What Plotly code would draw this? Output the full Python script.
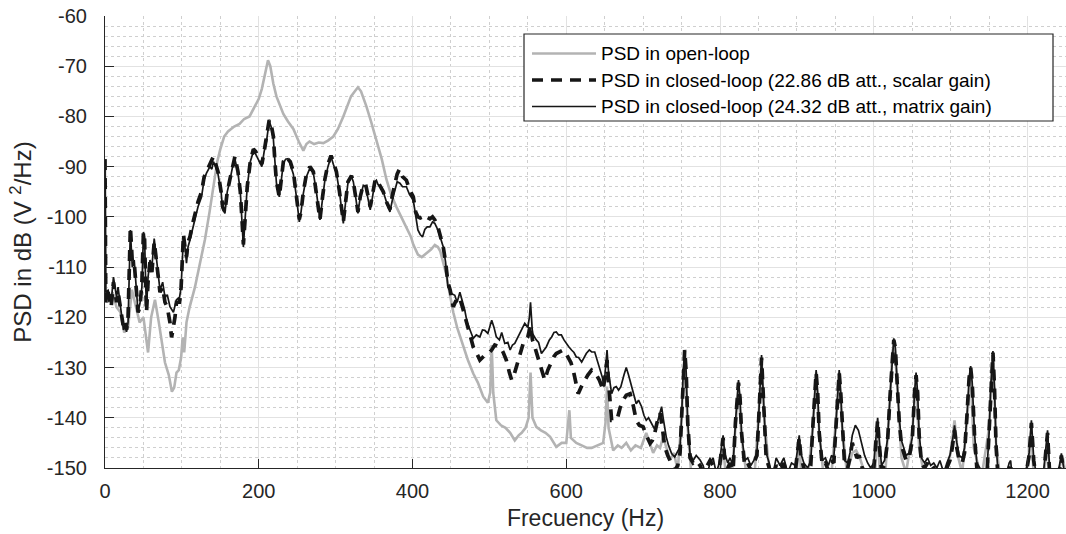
import plotly.graph_objects as go

# ---------------- data ----------------
f_open = [0, 1, 5, 10, 15, 20, 25, 30, 35, 40, 45, 50, 53, 56, 60, 65, 70, 74, 78, 83, 87, 90, 93, 96, 99, 101, 103, 106, 110, 117, 124, 130, 136, 141, 146, 150, 155, 160, 168, 175, 181, 188, 195, 200, 204, 208, 212, 215, 219, 223, 228, 232, 238, 245, 252, 258, 262, 266, 272, 278, 284, 290, 297, 303, 310, 315, 320, 325, 329, 333, 337, 340, 346, 353, 360, 366, 372, 379, 385, 392, 398, 401, 407, 412, 418, 424, 429, 433, 436, 440, 444, 448, 453, 458, 466, 472, 479, 485, 492, 498, 501, 503, 505, 509, 515, 521, 527, 533, 538, 542, 547, 551, 553.5, 556, 561, 567, 573, 579, 587, 594, 600, 602, 604, 606, 613, 620, 627, 633, 640, 648, 651, 653, 655, 661, 667, 672, 678, 684, 690, 697, 704, 709, 713, 718, 722, 726, 731, 735, 740, 745, 750, 754, 758, 763, 770, 780, 790, 800, 804, 808, 815, 820, 824, 828, 835, 845, 850, 854, 858, 865, 880, 895, 900, 903, 906, 915, 921, 925, 929, 935, 945, 951, 955, 959, 965, 972, 977, 982, 988, 995, 1002, 1005, 1008, 1015, 1020, 1024, 1027, 1031, 1036, 1042, 1050, 1055, 1059, 1065, 1075, 1085, 1095, 1100, 1105, 1110, 1115, 1121, 1126, 1130, 1140, 1150, 1155, 1159, 1165, 1178, 1195, 1202, 1205, 1208, 1220, 1224, 1226, 1229, 1238, 1243, 1246, 1250]
psd_open = [-90, -116, -117, -115, -118, -119, -123, -122, -114.5, -118, -121, -120, -124, -127, -120, -116.5, -121, -125.5, -129, -131.5, -134.8, -134, -131, -130.5, -128, -124, -127, -121, -118, -114, -109, -104.5, -99, -94, -89, -86.5, -84, -83, -82, -81.5, -80.5, -80, -78, -76.5, -74.5, -71.5, -68.8, -70, -73.5, -76, -78, -79.5, -81, -82.5, -85, -86.8, -85.5, -85, -85.5, -85.2, -85.3, -84.8, -84, -82.5, -80, -78, -76, -75, -74.2, -75, -76.5, -78, -81, -84.7, -88.5, -92.5, -95.5, -98, -100, -102, -104, -105.5, -107.5, -108, -107.3, -106.5, -105.6, -106, -106.8, -109, -111.5, -115, -119, -122, -125.9, -128.5, -131.2, -133, -135.8, -137, -135, -125.5, -135, -140.5, -141.5, -142, -143, -144.5, -143.5, -143, -142, -140, -131, -140, -141.8, -142.5, -143, -143.8, -145.8, -145, -145, -142, -138.5, -144, -145, -145.5, -146, -146, -145.5, -145, -141, -133.8, -142, -146.5, -145.5, -146, -145, -146.5, -145.5, -146, -143, -145.5, -147, -145.5, -146, -143.8, -146.5, -148.4, -147, -150.5, -140, -127, -142, -152, -151, -152, -151, -150.5, -146, -152, -152, -142, -134, -144, -152, -151, -140, -128.5, -141, -152, -151, -152, -150, -145, -152, -151, -141, -131, -143, -152, -151, -140, -131, -142, -151, -147, -146.5, -148, -151, -152, -150, -141, -152, -151, -139, -127, -125, -135, -148, -151, -143, -132, -146, -151, -152, -151, -150, -147, -140.5, -148, -151, -141, -131, -146, -152, -142, -127.5, -145, -153, -153, -153, -148, -142, -152, -152, -148, -144, -152, -152, -149, -148, -152]

f_scalar = [0, 1, 4, 8, 11, 13, 15, 17, 19.5, 22, 24, 26, 28, 30, 32, 33, 34.5, 35.5, 38, 41, 43, 45.5, 48, 50, 51.5, 53, 54, 56, 58.5, 61, 64, 66, 68, 71.5, 75, 78, 81, 84.5, 86.6, 89, 91, 93, 97, 99, 102, 104, 106, 108, 110.5, 113, 117, 121, 125.6, 129, 132, 136.5, 139, 141, 144, 147, 151, 153, 156, 159, 162.5, 166, 169, 173, 176, 178, 180, 182, 185, 189, 193, 196, 199.5, 204, 207, 210, 213.6, 216, 219, 221, 223, 226.7, 229, 232, 235, 238, 241, 245, 249, 252.7, 255, 258, 262, 266.5, 271, 275, 279.6, 283, 286, 290, 294, 297, 301, 305, 308, 310, 313, 316, 320.6, 323, 326, 329, 332, 336, 339, 342, 345, 348, 351, 353, 355, 358, 362, 366, 370.6, 374, 377, 380, 383, 387, 392, 396, 401, 404, 407, 410, 413, 416, 419, 422.6, 426, 429, 433, 437, 440, 443, 446, 449, 451, 453, 457, 461, 465, 470, 474, 479, 483, 487.6, 491, 496, 500, 503, 507, 514, 518, 522, 526, 529, 532, 535, 539, 544, 547, 550, 553.5, 556, 559, 563, 566, 569, 572, 576, 581, 584, 587, 591, 596, 599, 602.5, 606, 609, 612, 615.5, 619, 624, 628, 633, 638, 643, 648, 651, 653, 655, 659, 663, 667, 670, 674, 678, 683, 687, 691, 695, 700, 704, 709, 712, 715, 718, 722, 725, 728, 732, 737, 741, 745, 748, 750, 752, 754, 756, 758, 761, 765, 769, 774, 778, 782, 787, 791, 795, 799, 801, 804, 806, 810, 813, 817, 820, 822, 824, 826, 828, 832, 836, 840, 844, 848, 851, 854, 857, 860, 864, 868, 873, 878, 883, 888, 893, 898, 901, 903, 905, 909, 914, 918, 921, 923, 925, 927, 929, 933, 937, 941, 945, 948, 951, 953, 955, 957, 959, 962, 966, 969, 972, 975, 978, 981, 985, 988, 992, 996, 1000, 1003, 1005, 1007, 1010, 1014, 1018, 1021, 1024, 1026, 1028, 1030, 1033, 1036, 1039, 1042, 1046, 1050, 1053, 1055, 1057, 1059, 1062, 1066, 1070, 1074, 1078, 1082, 1086, 1091, 1095, 1099, 1102, 1105, 1108, 1111, 1115, 1118, 1121, 1124, 1126, 1128, 1131, 1134, 1138, 1142, 1147, 1150, 1152, 1155, 1157, 1159, 1162, 1170, 1176, 1178, 1180, 1185, 1188, 1195, 1202, 1205, 1208, 1212, 1220, 1223, 1226, 1229, 1235, 1241, 1244, 1247, 1250]
psd_scalar = [-88.5, -117, -115, -118, -113, -115, -117, -115, -118, -121, -122, -121, -122.5, -120, -108, -102, -106, -109, -109, -116.5, -119, -118, -113, -103, -104.5, -114, -119, -113, -109, -111, -105, -107.5, -110, -115, -114, -117, -118, -121, -124, -122, -120, -117, -117, -114, -103.5, -106, -108, -105, -104, -102, -99.5, -97, -95, -92, -91, -89.5, -89, -88, -89.5, -91, -95, -98, -99, -95, -92.5, -90, -88, -91, -95, -100, -105.5, -101, -94, -89, -86.5, -87, -88, -89.5, -87, -84.5, -80.7, -81.5, -84, -89, -93, -96, -93, -89, -88, -88.4, -89, -91, -96, -100.5, -99, -95, -91.5, -90, -91, -95, -100.5, -96, -92.5, -89.5, -87.8, -89, -91, -95, -99, -101, -97, -93, -91.8, -93, -96, -99, -96, -93.5, -93.5, -96, -98, -95.5, -93, -92.5, -93, -94, -95, -97, -98.5, -95.5, -93.5, -91.5, -90.5, -92, -92.7, -94.5, -96, -99, -100, -100.2, -100, -100.5, -100.1, -100.4, -100, -100.6, -102, -104, -106, -109, -113, -114.6, -116, -117.9, -116.5, -116, -118, -120.6, -123, -125.9, -127, -128.5, -128, -127.2, -127, -126.5, -125.5, -125.9, -127, -128.5, -131, -132.5, -131.5, -129.9, -127.5, -125.2, -124.5, -123.9, -121.5, -124.5, -125.9, -128, -129.9, -131.5, -132.5, -130.5, -128.5, -127.8, -127.2, -126.8, -126.5, -127, -127.9, -129, -130.5, -133, -135.2, -134, -132.5, -131.5, -130.5, -131.1, -132.5, -134.5, -131, -128.5, -133, -140.5, -140.5, -139.8, -138, -136.5, -135.5, -135.2, -137.5, -140.5, -141.5, -141.8, -143.5, -145.1, -144.5, -143.1, -141, -139.1, -142, -145.8, -147.5, -149, -150.5, -149.5, -147, -140, -131, -126.5, -131, -141, -148, -149, -148.5, -149.5, -151, -150, -148.5, -149.5, -152, -150, -148, -144, -148, -150, -149, -150.5, -141, -136, -133, -136, -143, -149.5, -149, -150.5, -149, -147.5, -138, -128, -138, -148, -150, -152, -149.5, -150.5, -149, -152, -150, -150.5, -146.5, -144, -147.5, -150, -151, -149.5, -141, -135, -131, -135, -143, -149.5, -149, -150.5, -148.5, -149, -140, -134, -131, -135, -142, -149.5, -150, -148, -145, -146.5, -148, -147.5, -150, -150.5, -151, -151.5, -150, -145, -140.5, -145, -150.5, -149.5, -144.5, -136, -128, -124.5, -126, -132, -140.5, -145.5, -147, -148.5, -148, -144.5, -135, -131.5, -135, -143.5, -149, -150, -149, -150.5, -150, -151, -149.5, -152, -150, -148.5, -146, -142.5, -146, -148.5, -149, -147, -140, -132, -130, -133, -143.5, -150, -151, -153, -152, -143, -134, -127, -134, -145.5, -153, -154, -150, -149, -153, -152, -153, -154, -147.5, -141, -148.5, -153, -153, -147.5, -143, -152, -154, -151, -147.5, -151, -153]

f_matrix = [0, 1, 4, 8, 11, 13, 15, 17, 19.5, 22, 24, 26, 28, 30, 32, 33, 34.5, 35.5, 38, 41, 43, 45.5, 48, 50, 51.5, 53, 54, 56, 58.5, 61, 64, 66, 68, 71.5, 75, 78, 81, 84.5, 89, 91, 93, 97, 99, 102, 104, 106, 108, 110.5, 113, 117, 121, 125.6, 129, 132, 136.5, 139, 141, 144, 147, 151, 153, 156, 159, 162.5, 166, 169, 173, 176, 178, 180, 182, 185, 189, 193, 196, 199.5, 204, 207, 210, 213.6, 216, 219, 221, 223, 226.7, 229, 232, 235, 238, 241, 245, 249, 252.7, 255, 258, 262, 266.5, 271, 275, 279.6, 283, 286, 290, 294, 297, 301, 305, 308, 310, 313, 316, 320.6, 323, 326, 329, 332, 336, 339, 342, 345, 348, 351, 353, 355, 358, 362, 366, 370.6, 374, 377, 380, 383.6, 387, 392, 396, 401, 404, 407, 410, 413, 416, 419, 422.6, 426, 429, 433, 437, 440, 443, 446, 449, 451, 455, 458, 461.6, 465, 468, 471, 474.6, 479, 483, 487.6, 491, 494, 498, 501, 503, 506, 509, 513, 516, 520, 524, 527, 530, 533, 537, 540, 543, 546, 550, 552, 553.5, 555, 556, 561, 564, 567.7, 571, 574, 578, 581, 584, 587, 590, 593.6, 597, 600, 603, 606.8, 610, 613, 616, 620, 623, 626, 630, 633, 637, 640, 643.7, 647, 649, 651, 653, 655, 659, 662, 665, 668, 671, 675, 678, 681, 685, 688, 691, 694, 698, 701, 704, 707, 711, 714, 717, 720, 722, 724, 726, 730, 733, 737, 741, 744, 748, 750, 752, 754, 756, 758, 761, 765, 769, 774, 778, 782, 787, 791, 795, 799, 801, 804, 806, 810, 813, 817, 820, 822, 824, 826, 828, 832, 836, 840, 844, 848, 851, 854, 857, 860, 864, 868, 873, 878, 883, 888, 893, 898, 901, 903, 905, 909, 914, 918, 921, 923, 925, 927, 929, 933, 937, 941, 945, 948, 951, 953, 955, 957, 959, 962, 966, 969, 972, 976, 980, 984, 988, 992, 996, 1000, 1003, 1005, 1007, 1010, 1014, 1018, 1021, 1024, 1026, 1028, 1030, 1033, 1036, 1039, 1042, 1046, 1050, 1053, 1055, 1057, 1059, 1062, 1066, 1070, 1074, 1078, 1082, 1086, 1091, 1095, 1099, 1102, 1105, 1108, 1111, 1115, 1118, 1121, 1124, 1126, 1128, 1131, 1134, 1138, 1142, 1147, 1150, 1152, 1155, 1157, 1159, 1162, 1170, 1176, 1178, 1180, 1185, 1188, 1195, 1202, 1205, 1208, 1212, 1220, 1223, 1226, 1229, 1235, 1241, 1244, 1247, 1250]
psd_matrix = [-88.5, -115, -114.6, -117, -112, -114, -116, -114, -117.2, -120, -122.5, -121.5, -122.9, -121, -109, -102.6, -107, -110, -108.6, -116, -119, -117.2, -114, -103, -104, -114, -118, -112, -108.6, -110, -104.3, -107, -110, -114.6, -113, -116, -115.5, -117.9, -119, -118, -116.5, -116, -114, -104, -106, -109.2, -106, -104.6, -103, -100.6, -98, -96, -92.5, -91.3, -90, -90.5, -89, -90, -91.5, -95, -98.5, -99.3, -95, -92.7, -90, -88.5, -91.3, -95, -100, -106, -101, -94, -89, -87, -87.5, -88.5, -90, -87, -85, -81, -82, -84.5, -89, -93.3, -96, -93, -89.3, -88.5, -88.4, -89.5, -91.5, -96, -101, -99, -95.3, -92, -90.3, -91.3, -95, -100.6, -96, -92.7, -90, -88, -89.5, -91.3, -95, -99, -101.3, -97, -93.3, -92, -93, -96, -99.3, -96, -93.7, -94, -96.5, -98.6, -96, -93, -92.7, -93.5, -94, -95, -97, -99, -96.5, -94.7, -93, -93.3, -94, -94, -95.5, -96.7, -100, -102.6, -103.5, -104, -102.5, -102, -102, -101, -101.3, -102.6, -104.5, -106, -109, -114, -114.5, -115.3, -115.6, -117, -115, -117, -118.6, -121, -122.6, -124.2, -123.5, -123.9, -122.5, -122.6, -123.2, -121.5, -120.6, -122, -123.9, -124.5, -123, -125.2, -125, -126.5, -125.5, -125.2, -124, -123.2, -122, -121.2, -122, -120, -117, -121, -123.2, -124.5, -125, -127.2, -126.5, -125.9, -124.5, -123.9, -123, -122.9, -123.5, -123.5, -124.5, -125.2, -125.8, -126.5, -127, -127.9, -128, -128.9, -128, -127.2, -126.5, -126.9, -126.9, -128.5, -130.5, -132, -133.8, -130, -126.5, -131, -135.2, -134, -133.8, -134.5, -133.8, -131.5, -130, -131.5, -133.8, -135.5, -137.2, -136.5, -137.8, -139.5, -140.5, -140, -141.1, -142, -141.8, -140, -138.5, -137.8, -140, -143.8, -145.5, -147.1, -147.8, -147, -145.8, -140, -131, -126.5, -131, -141, -147.1, -148.5, -147.5, -148.4, -149.5, -152, -149, -148, -151, -149, -147, -143.5, -147, -149, -148, -149.5, -141, -136, -132.5, -136, -143, -148.5, -148, -149.5, -148.5, -147, -138, -127.5, -138, -147, -149, -152, -148, -149.5, -148, -151, -149, -149.5, -146, -143.5, -147, -149, -150, -148.5, -141, -135, -130.5, -135, -143, -148.5, -148, -149.5, -147.5, -148, -140, -134, -130.5, -135, -142, -148.5, -149, -147, -143.5, -141.5, -142.5, -145, -147.5, -149, -150, -149, -144, -140, -144, -149.5, -148.5, -144, -136, -128, -124.2, -126, -132, -140, -144.5, -146, -147.5, -147, -144, -135, -131, -135, -143, -148, -149, -148, -149.5, -149, -150, -148.5, -151, -149, -147.5, -145, -141.5, -145, -147.5, -148, -146, -140, -132, -129.7, -133, -143, -149, -150, -152, -151, -143, -134, -126.7, -134, -145, -152, -153, -149, -148.5, -152, -151, -152, -153, -147, -140.5, -148, -152, -152, -147, -142.5, -151, -153, -150, -147.1, -150, -152]

names = ["PSD in open-loop",
         "PSD in closed-loop (22.86 dB att., scalar gain)",
         "PSD in closed-loop (24.32 dB att., matrix gain)"]

x_ticks = [0, 200, 400, 600, 800, 1000, 1200]
y_ticks = [-60, -70, -80, -90, -100, -110, -120, -130, -140, -150]

# ---------------- styling ----------------
GRAY = "#b3b3b3"
BLACK = "#161616"
AX = "#262626"
FONT = "Liberation Sans, Arial, Helvetica, sans-serif"

W, H = 1066, 534
L, R, T, B = 105, 0, 16, 66

fig = go.Figure()
fig.add_trace(go.Scatter(x=f_open, y=psd_open, mode="lines", name=names[0],
                         line=dict(color=GRAY, width=2.6), showlegend=False))
fig.add_trace(go.Scatter(x=f_scalar, y=psd_scalar, mode="lines", name=names[1],
                         line=dict(color=BLACK, width=3.7, dash="11px,8px"), showlegend=False))
fig.add_trace(go.Scatter(x=f_matrix, y=psd_matrix, mode="lines", name=names[2],
                         line=dict(color=BLACK, width=1.7), showlegend=False))

axis_common = dict(
    showline=True, linecolor=AX, linewidth=1.2, mirror=False,
    ticks="inside", ticklen=9, tickcolor=AX, tickwidth=1.2,
    tickfont=dict(family=FONT, size=20, color=AX),
    showgrid=True, gridcolor="#e2e2e2", gridwidth=1,
    zeroline=False,
)

fig.update_xaxes(range=[0, 1250], tickvals=x_ticks, ticktext=[str(v) for v in x_ticks],
                 ticklabelstandoff=5,
                 title=dict(text="Frecuency (Hz)", font=dict(family=FONT, size=23, color=AX), standoff=8),
                 minor=dict(dtick=50, tick0=0, showgrid=True, gridcolor="#cfcfcf", griddash="dot", gridwidth=1, ticks=""),
                 **axis_common)
fig.update_yaxes(range=[-150, -60], tickvals=y_ticks, ticktext=[str(v) for v in y_ticks],
                 ticklabelstandoff=13,
                 title=dict(text="PSD in dB (V&nbsp;<sup>2</sup>/Hz)", font=dict(family=FONT, size=24, color=AX), standoff=8),
                 minor=dict(dtick=2, tick0=-150, showgrid=True, gridcolor="#cfcfcf", griddash="dot", gridwidth=1, ticks=""),
                 **axis_common)

# manual legend (MATLAB style) positioned in paper coordinates
pw, ph = W - L - R, H - T - B
def px(xp):
    return (xp - L) / pw
def py(yp):
    return (H - B - yp) / ph

box = dict(x0=px(524), x1=px(1053), y0=py(121), y1=py(34))
shapes = [dict(type="rect", xref="paper", yref="paper", **box,
               line=dict(color=AX, width=1.2), fillcolor="white", layer="above")]
rows = [53.5, 80, 106.5]
styles = [dict(color=GRAY, width=2.6), dict(color=BLACK, width=3.7, dash="11px,8px"), dict(color=BLACK, width=1.7)]
annotations = []
for yrow, st, nm in zip(rows, styles, names):
    shapes.append(dict(type="line", xref="paper", yref="paper", x0=px(532), x1=px(596),
                       y0=py(yrow), y1=py(yrow), line=st, layer="above"))
    annotations.append(dict(xref="paper", yref="paper", x=px(599), y=py(yrow), text=nm,
                            showarrow=False, xanchor="left", yanchor="middle",
                            font=dict(family=FONT, size=19, color="#000000")))

fig.update_layout(width=W, height=H, margin=dict(l=L, r=R, t=T, b=B, autoexpand=False),
                  paper_bgcolor="white", plot_bgcolor="white",
                  shapes=shapes, annotations=annotations, showlegend=False)

fig.write_html("out.html", config={"displayModeBar": False},
               post_script="document.body.style.margin='0px';")
